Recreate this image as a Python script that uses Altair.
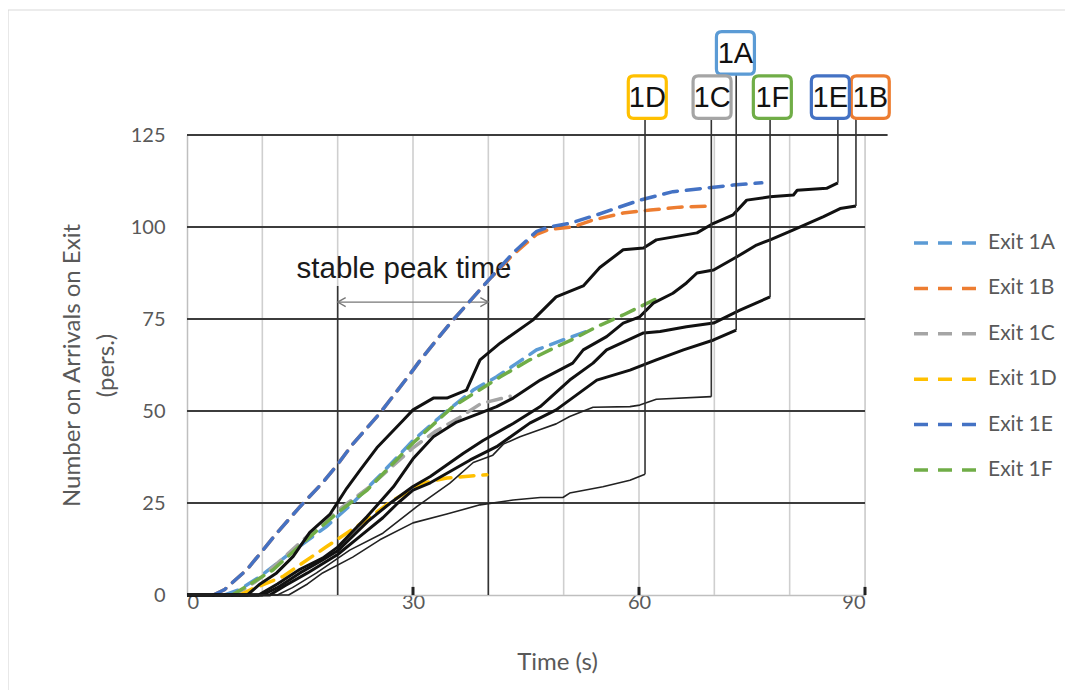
import altair as alt
import pandas as pd

# ---------------- data ----------------
exits = ["Exit 1A", "Exit 1B", "Exit 1C", "Exit 1D", "Exit 1E", "Exit 1F"]
codes = ["1A", "1B", "1C", "1D", "1E", "1F"]
colors = ["#5B9BD5", "#ED7D31", "#A5A5A5", "#FFC000", "#4472C4", "#70AD47"]

# simulated cumulative arrivals (dashed series)
sim_1A_t = [5, 7, 9.7, 13.7, 18.5, 22, 25.6, 30, 34.5, 38, 41.1, 43.8, 46.4, 49.9, 53.5]
sim_1A_n = [0, 1.5, 5, 11.4, 18.6, 25, 32.5, 42, 50, 55.7, 59.3, 63, 66.6, 69.3, 72]
sim_1B_t = [3.5, 5, 8, 12, 15, 18, 20, 22, 25.6, 29.6, 31, 35, 40, 43.3, 46.4, 48, 51.2, 53.9, 57.9, 61.5, 65.4, 69.6]
sim_1B_n = [0, 1.5, 7, 17, 24, 30.5, 35.5, 41, 49.4, 60, 63.9, 74, 85.5, 92.5, 98, 99.3, 100, 101.9, 103.8, 104.6, 105.4, 105.7]
sim_1C_t = [6, 8, 10, 13, 16, 20, 24, 27, 30, 33, 36, 39, 42.9]
sim_1C_n = [0, 2, 5, 10.5, 16, 23, 29, 34.5, 40, 44.5, 48, 52, 54]
sim_1D_t = [7, 8.4, 12.7, 18.5, 22.5, 27.4, 31.3, 34.5, 39.8]
sim_1D_n = [0, 1.4, 5, 13.1, 18.6, 25.8, 30.4, 31.8, 32.7]
sim_1E_t = [3.5, 5, 8, 12, 15, 18, 20, 22, 25.6, 29.6, 31, 35, 40, 43.3, 46.4, 48, 50.8, 54.4, 60.1, 64.5, 68.5, 72.5, 76.3]
sim_1E_n = [0, 1.5, 7, 17, 24, 30.5, 35.5, 41, 49.4, 60, 63.9, 74, 85.5, 93, 98.8, 100, 101, 103.3, 107.3, 109.6, 110.5, 111.4, 112]
sim_1F_t = [6, 8, 11.4, 16.3, 19.9, 23.9, 27.8, 30, 35.3, 41.6, 45.5, 48.2, 51.2, 54.4, 57.9, 62.5]
sim_1F_n = [0, 2.5, 6.8, 15.8, 22.2, 28.5, 36.7, 41.3, 51.2, 59.3, 63.9, 66.6, 69.5, 72.9, 76.1, 80.7]

# observed cumulative arrivals (black step curves)
obs_1A_t = [0, 11, 13, 16, 20, 23, 26, 28, 30, 32.3, 37.6, 41.1, 45.5, 49, 54.4, 58.8, 62.3, 65.9, 69.9, 72.9]
obs_1A_n = [0, 0, 2.5, 6, 11, 16, 21, 25, 28.5, 30.5, 36.7, 40.3, 46.7, 50.3, 58.4, 61.1, 63.9, 66.6, 69.3, 72]
obs_1B_t = [0, 9.5, 12, 15, 18, 20, 23.9, 27.4, 30, 32.7, 35.8, 38.9, 41.1, 43.3, 46.9, 51.2, 52.6, 55.7, 57.9, 60.1,
            61.9, 64.5, 66.3, 67.7, 69.9, 73, 75.6, 77.4, 80.5, 84.5, 86.7, 88.8]
obs_1B_n = [0, 0, 3, 7, 10, 13, 21.3, 29.4, 37, 43, 47, 49.4, 51.2, 53.5, 58.4, 63, 66.6, 70.2, 73.9, 75.6,
            79.3, 82, 84.8, 87.5, 88.3, 91.9, 95.1, 96.5, 99.2, 102.8, 105, 105.7]
obs_1C_t = [0, 12, 14, 17.2, 21.6, 26, 30.5, 34.9, 38, 40.6, 42, 44.2, 46.9, 49, 50.8, 53.9, 58.8, 60.1, 62.3, 69.6]
obs_1C_n = [0, 0, 2, 6, 12.2, 16.8, 24, 30.4, 36, 38, 41, 43, 45, 46.5, 48.5, 51, 51.2, 51.6, 53.2, 53.9]
obs_1D_t = [0, 13.5, 16, 18, 22, 25.6, 30, 34.5, 38.9, 43.3, 46.9, 49.9, 50.8, 55.2, 58.8, 60.8]
obs_1D_n = [0, 0, 3, 6, 10.3, 15, 19.6, 22, 24.5, 25.8, 26.5, 26.5, 27.7, 29.4, 31.2, 32.8]
obs_1E_t = [0, 8, 9.7, 11.9, 14.1, 16.3, 19, 21.2, 23, 25.2, 28.7, 30, 32.7, 34.5, 37.1, 38.9, 41.6, 45.9, 49,
            52.6, 54.8, 57.9, 60.6, 62.3, 67.7, 69.9, 72.5, 74.3, 77.4, 80.5, 81, 84.9, 86.4]
obs_1E_n = [0, 0, 3, 6, 10.5, 17, 22, 29, 34, 40, 47.5, 50.3, 53.5, 53.5, 55.7, 63.9, 68.5, 74.7, 81,
            84, 89, 93.8, 94.3, 96.5, 98.4, 101, 103.3, 107.3, 108.2, 108.7, 110, 110.5, 112]
obs_1F_t = [0, 10, 12, 15, 18, 20, 24, 27, 30, 32.3, 36.7, 39.3, 43.3, 46.9, 50.8, 53.9, 55.7, 60.6, 62.8, 66.3,
            69.9, 73.4, 77.4]
obs_1F_n = [0, 0, 2, 6, 9.5, 12, 20, 25, 29.5, 32.2, 38.5, 42, 46.6, 51.2, 58.4, 63, 66.6, 71.2, 71.6, 72.9,
            73.9, 77.4, 81]
obs_thick = ["1A", "1B", "1E", "1F"]

# label boxes above the plot (time, count of box centre)
label_t = [72.8, 90.7, 69.7, 61.1, 85.4, 77.7]
label_n = [147.3, 135.3, 135.3, 135.3, 135.3, 135.3]

# annotation "stable peak time"
peak_start, peak_end = 20, 40
peak_arrow_n = 79.6
peak_line_top = 84
peak_text = "stable peak time"
peak_text_t, peak_text_n = 28.8, 86.2

# grid
x_grid = [10, 20, 30, 40, 50, 60, 70, 80, 90]
y_grid = [25, 50, 75, 100]
top_line_n, top_line_end = 125, 93
x_ticks_marked = [30, 60, 90]

# ---------------- frames ----------------
sim = {"1A": (sim_1A_t, sim_1A_n), "1B": (sim_1B_t, sim_1B_n), "1C": (sim_1C_t, sim_1C_n),
       "1D": (sim_1D_t, sim_1D_n), "1E": (sim_1E_t, sim_1E_n), "1F": (sim_1F_t, sim_1F_n)}
obs = {"1A": (obs_1A_t, obs_1A_n), "1B": (obs_1B_t, obs_1B_n), "1C": (obs_1C_t, obs_1C_n),
       "1D": (obs_1D_t, obs_1D_n), "1E": (obs_1E_t, obs_1E_n), "1F": (obs_1F_t, obs_1F_n)}

sim_rows = []
for code, ex in zip(codes, exits):
    ts, ns = sim[code]
    for i, (t, n) in enumerate(zip(ts, ns)):
        sim_rows.append({"exit": ex, "t": t, "n": n, "i": i})
sim_df = pd.DataFrame(sim_rows)

obs_rows = []
for code in codes:
    ts, ns = obs[code]
    for i, (t, n) in enumerate(zip(ts, ns)):
        obs_rows.append({"code": code, "t": t, "n": n, "i": i,
                         "thick": 1 if code in obs_thick else 0})
obs_df = pd.DataFrame(obs_rows)

box_df = pd.DataFrame({
    "code": codes, "exit": exits, "t": label_t, "n": label_n,
    "et": [obs[c][0][-1] for c in codes], "en": [obs[c][1][-1] for c in codes],
})

vgrid_df = pd.DataFrame({"t": x_grid, "n": 0, "hi": 125})
hgrid_df = pd.DataFrame({"n": y_grid + [top_line_n], "t": 0, "t1": [90] * len(y_grid) + [top_line_end]})
peak_df = pd.DataFrame({"t": [peak_start, peak_end], "n": 0, "top": peak_line_top})
arrow_df = pd.DataFrame({"t": [peak_start], "t1": [peak_end], "n": [peak_arrow_n]})
ticks_df = pd.DataFrame({"t": x_ticks_marked, "n": 0, "hi": 2.2})
text_df = pd.DataFrame({"t": [peak_text_t], "n": [peak_text_n], "label": [peak_text]})

W, H = 678, 460
xs = alt.Scale(domain=[0, 90], nice=False, zero=False)
ys = alt.Scale(domain=[0, 125], nice=False)
FONT = "Lato"
GREY_TXT = "#595959"
X_TITLE = "Time (s)"
Y_TITLE = ["Number on Arrivals on Exit", "(pers.)"]

X = alt.X("t:Q", scale=xs, title=X_TITLE)
Y = alt.Y("n:Q", scale=ys, title=Y_TITLE)

# ---------------- layers ----------------
frame_top = alt.Chart(pd.DataFrame({"a": [0]})).mark_rule(color="#D9D9D9", strokeWidth=1.2, clip=False).encode(
    x=alt.value(-179), x2=alt.value(900), y=alt.value(-125))
frame_left = alt.Chart(pd.DataFrame({"a": [0]})).mark_rule(color="#D9D9D9", strokeWidth=1.2, clip=False).encode(
    x=alt.value(-179), y=alt.value(-125), y2=alt.value(600))

vgrid = alt.Chart(vgrid_df).mark_rule(color="#CFCFCF", strokeWidth=1.6).encode(
    x=alt.X("t:Q", scale=xs, title=X_TITLE,
            axis=alt.Axis(values=[0, 30, 60, 90], grid=False, ticks=False, tickSize=0,
                          labelPadding=7, labelBaseline="middle",
                          labelFont=FONT, labelFontSize=20, labelColor=GREY_TXT,
                          domainColor="#BFBFBF", domainWidth=1.5,
                          titleFont=FONT, titleFontSize=24, titleFontWeight="normal", titleColor=GREY_TXT,
                          titleX=370, titleY=67, titleAlign="center", titleBaseline="middle")),
    y=alt.Y("n:Q", scale=ys, title=Y_TITLE,
            axis=alt.Axis(values=[0, 25, 50, 75, 100, 125],
                          grid=False, ticks=False, tickSize=0, labelPadding=22,
                          labelFont=FONT, labelFontSize=20, labelColor=GREY_TXT,
                          domainColor="#BFBFBF", domainWidth=1.5,
                          titleFont=FONT, titleFontSize=24, titleFontWeight="normal",
                          titleColor=GREY_TXT, titleX=-115, titleLineHeight=34,
                          titleBaseline="middle", titleAlign="center")),
    y2="hi:Q",
)

hgrid = alt.Chart(hgrid_df).mark_rule(color="#3C3C3C", strokeWidth=1.8, clip=False).encode(
    x=X, x2="t1:Q", y=Y
)

peak_lines = alt.Chart(peak_df).mark_rule(color="#333333", strokeWidth=1.6).encode(
    x=X, y=Y, y2="top:Q"
)

arrow_line = alt.Chart(arrow_df).mark_rule(color="#777777", strokeWidth=1.3).encode(
    x=X, x2="t1:Q", y=Y
)
arrow_l = alt.Chart(arrow_df).mark_point(
    shape="M 1.6,-0.9 L 0,0 L 1.6,0.9", size=100, filled=False, color="#777777", strokeWidth=1.3, opacity=1
).encode(x=X, y=Y)
arrow_r = alt.Chart(arrow_df).mark_point(
    shape="M -1.6,-0.9 L 0,0 L -1.6,0.9", size=100, filled=False, color="#777777", strokeWidth=1.3, opacity=1
).encode(x=alt.X("t1:Q", scale=xs, title=X_TITLE), y=Y)

peak_label = alt.Chart(text_df).mark_text(
    font="Liberation Sans", fontSize=29.5, color="#1A1A1A", align="center", baseline="alphabetic"
).encode(x=X, y=Y, text="label:N")

bottom_ticks = alt.Chart(ticks_df).mark_rule(color="#222222", strokeWidth=3).encode(
    x=X, y=Y, y2="hi:Q"
)

sim_lines = alt.Chart(sim_df).mark_line(strokeWidth=3.5, strokeDash=[14, 9], strokeCap="round").encode(
    x=X, y=Y,
    color=alt.Color("exit:N", scale=alt.Scale(domain=exits, range=colors), title=None,
                    legend=alt.Legend(orient="none", legendX=725, legendY=98, symbolType="stroke",
                                      symbolSize=4900, symbolStrokeWidth=3.5, symbolDash=[14, 10],
                                      labelFont=FONT, labelFontSize=21, labelColor=GREY_TXT,
                                      clipHeight=20, rowPadding=24.4, padding=0, labelOffset=2)),
    order=alt.Order("i:Q"),
)

obs_thick_lines = alt.Chart(obs_df).transform_filter("datum.thick == 1").mark_line(
    color="#111111", strokeWidth=3, strokeJoin="round"
).encode(x=X, y=Y, detail="code:N", order=alt.Order("i:Q"))
obs_thin_lines = alt.Chart(obs_df).transform_filter("datum.thick == 0").mark_line(
    color="#222222", strokeWidth=1.6, strokeJoin="round"
).encode(x=X, y=Y, detail="code:N", order=alt.Order("i:Q"))

connectors = alt.Chart(box_df).mark_rule(color="#333333", strokeWidth=1.6, clip=False).encode(
    x=alt.X("et:Q", scale=xs, title=X_TITLE), y=alt.Y("en:Q", scale=ys, title=Y_TITLE),
    y2="n:Q"
)

ROUND_BOX = ("M -0.72,-1.12 L 0.72,-1.12 Q 1,-1.12 1,-0.84 L 1,0.84 Q 1,1.12 0.72,1.12 "
             "L -0.72,1.12 Q -1,1.12 -1,0.84 L -1,-0.84 Q -1,-1.12 -0.72,-1.12 Z")
boxes = alt.Chart(box_df).mark_point(
    shape=ROUND_BOX, size=1444, fill="white", fillOpacity=1, strokeWidth=3.2, opacity=1, clip=False
).encode(
    x=X, y=Y,
    stroke=alt.Stroke("exit:N", scale=alt.Scale(domain=exits, range=colors), legend=None),
)
box_text = alt.Chart(box_df).mark_text(
    font="Liberation Sans", fontSize=29, color="#111111", align="center", baseline="middle", dy=1, clip=False
).encode(x=X, y=Y, text="code:N")

chart = alt.layer(
    frame_top, frame_left, vgrid, hgrid, peak_lines, bottom_ticks, arrow_line, arrow_l, arrow_r, peak_label,
    sim_lines, obs_thick_lines, obs_thin_lines, connectors, boxes, box_text
).properties(
    width=W, height=H,
    autosize=alt.AutoSizeParams(type="none"),
    padding={"left": 179, "top": 127, "right": 200, "bottom": 95},
).configure_view(strokeWidth=0).configure(background="white")

chart.save("out.html", embed_options={"renderer": "svg", "actions": False})
